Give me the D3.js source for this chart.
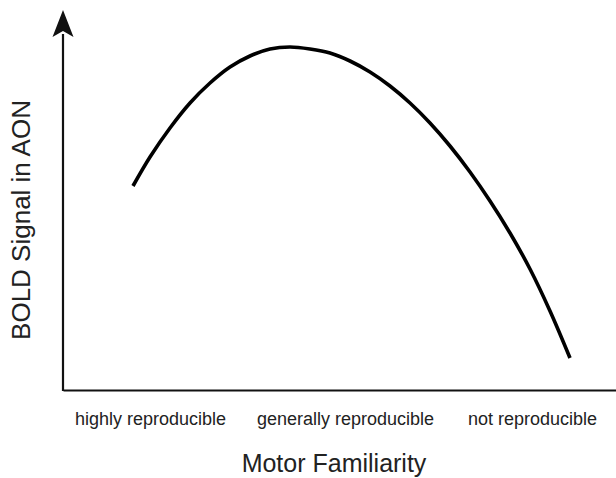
<!DOCTYPE html>
<html>
<head>
<meta charset="utf-8">
<script src="https://cdn.jsdelivr.net/npm/d3@7"></script>
<style>
  body { margin: 0; background: #fff; }
  svg { display: block; }
  text { font-family: "Liberation Sans", Arial, Helvetica, sans-serif; fill: #222; }
</style>
</head>
<body>
<div id="chart"></div>
<script>
const width = 616;
const height = 478;

// curve (familiarity, signal)
const familiarity = [70, 87, 107, 127, 147, 167, 187, 207, 227, 247, 267, 287, 307, 327, 347, 367, 387, 407, 427, 447, 467, 487, 507];
const boldSignal = [204, 233, 262, 287, 307, 323, 334, 341, 343, 341, 337, 329, 318, 304, 287, 267, 244, 218, 189, 157, 121, 79, 32];

const categories = ["highly reproducible", "generally reproducible", "not reproducible"];
const categoryPos = [87, 282, 469];

const xLabel = "Motor Familiarity";
const yLabel = "BOLD Signal in AON";

const svg = d3
  .select("#chart")
  .append("svg")
  .attr("width", width)
  .attr("height", height);

const xScale = d3.scaleLinear().domain([0, 553]).range([63, 616]);
const yScale = d3.scaleLinear().domain([0, 380]).range([390, 10]);

// x axis with category labels, no tick marks
const xAxis = svg
  .append("g")
  .attr("transform", `translate(0,${yScale(0)})`)
  .call(
    d3
      .axisBottom(xScale)
      .tickValues(categoryPos)
      .tickFormat((d, i) => categories[i])
      .tickSize(0)
      .tickPadding(22)
  );
xAxis.select(".domain").attr("stroke", "#111").attr("stroke-width", 2.2);
xAxis.selectAll("text").attr("font-size", "18px").style("fill", "#222");

// y axis line with arrow head
svg
  .append("line")
  .attr("x1", xScale(0))
  .attr("x2", xScale(0))
  .attr("y1", yScale(0) + 1)
  .attr("y2", yScale(356))
  .attr("stroke", "#111")
  .attr("stroke-width", 2.2);

const tipX = xScale(0), tipY = yScale(380);
svg
  .append("path")
  .attr("d", `M${tipX},${tipY} L${tipX + 10.5},${tipY + 27} L${tipX},${tipY + 21} L${tipX - 10.5},${tipY + 27} Z`)
  .attr("fill", "#111");

// the curve
const line = d3
  .line()
  .x((d, i) => xScale(familiarity[i]))
  .y((d) => yScale(d))
  .curve(d3.curveCatmullRom);

svg
  .append("path")
  .datum(boldSignal)
  .attr("d", line)
  .attr("fill", "none")
  .attr("stroke", "#000")
  .attr("stroke-width", 3.6)
  .attr("stroke-linecap", "butt");

// axis titles
svg
  .append("text")
  .attr("x", 334)
  .attr("y", 472)
  .attr("text-anchor", "middle")
  .attr("font-size", "25px")
  .text(xLabel);

svg
  .append("text")
  .attr("transform", "rotate(-90)")
  .attr("x", -220)
  .attr("y", 30)
  .attr("text-anchor", "middle")
  .attr("font-size", "26px")
  .text(yLabel);
</script>
</body>
</html>
